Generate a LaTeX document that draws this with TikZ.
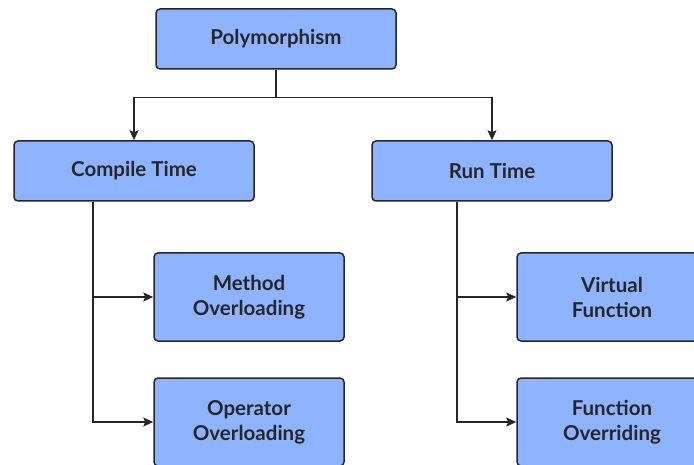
\documentclass[tikz,border=0pt]{standalone}
\usepackage{fontspec}
\setmainfont{Lato}
\usepackage{tikz}
\usetikzlibrary{shapes, arrows, arrows.meta, positioning}
\definecolor{boxblue}{HTML}{8FB4FF}
\definecolor{boxline}{HTML}{262626}

\begin{document}
\begin{tikzpicture}[x=1pt, y=-1pt]
\tikzset{edge/.style = {-{Stealth[length=10pt, width=9pt, inset=2pt]}, line width=1.5pt, draw=boxline},
	box/.style = {draw=boxline, fill=boxblue, line width=1.5pt, rounded corners=4pt,
		minimum width=240pt, minimum height=60pt, align=center, text=boxline,
		font=\fontsize{20.5}{25}\selectfont\bfseries},
	leaf/.style = {box, minimum width=190pt, minimum height=88pt}}
\clip (0,0) rectangle (694,465);
            % boxes
	\node[box] (poly) at (276,39) {Polymorphism};
	\node[box] (ct) at (134,171) {Compile Time};
	\node[box] (rt) at (492,171) {Run Time};
	\node[leaf] (mo) at (249,297) {Method\\Overloading};
	\node[leaf] (oo) at (249,422) {Operator\\Overloading};
	\node[leaf] (vf) at (612,297) {Virtual\\Function};
	\node[leaf] (fo) at (612,422) {Function\\Overriding};
            % edges
	\draw[edge] (poly.south) -- ++(0,28) -| (ct.north);
	\draw[edge] (poly.south) -- ++(0,28) -| (rt.north);
	\draw[edge] ([xshift=-41pt]ct.south) |- (mo.west);
	\draw[edge] ([xshift=-41pt]ct.south) |- (oo.west);
	\draw[edge] ([xshift=-35pt]rt.south) |- (vf.west);
	\draw[edge] ([xshift=-35pt]rt.south) |- (fo.west);
\end{tikzpicture}
\end{document}
